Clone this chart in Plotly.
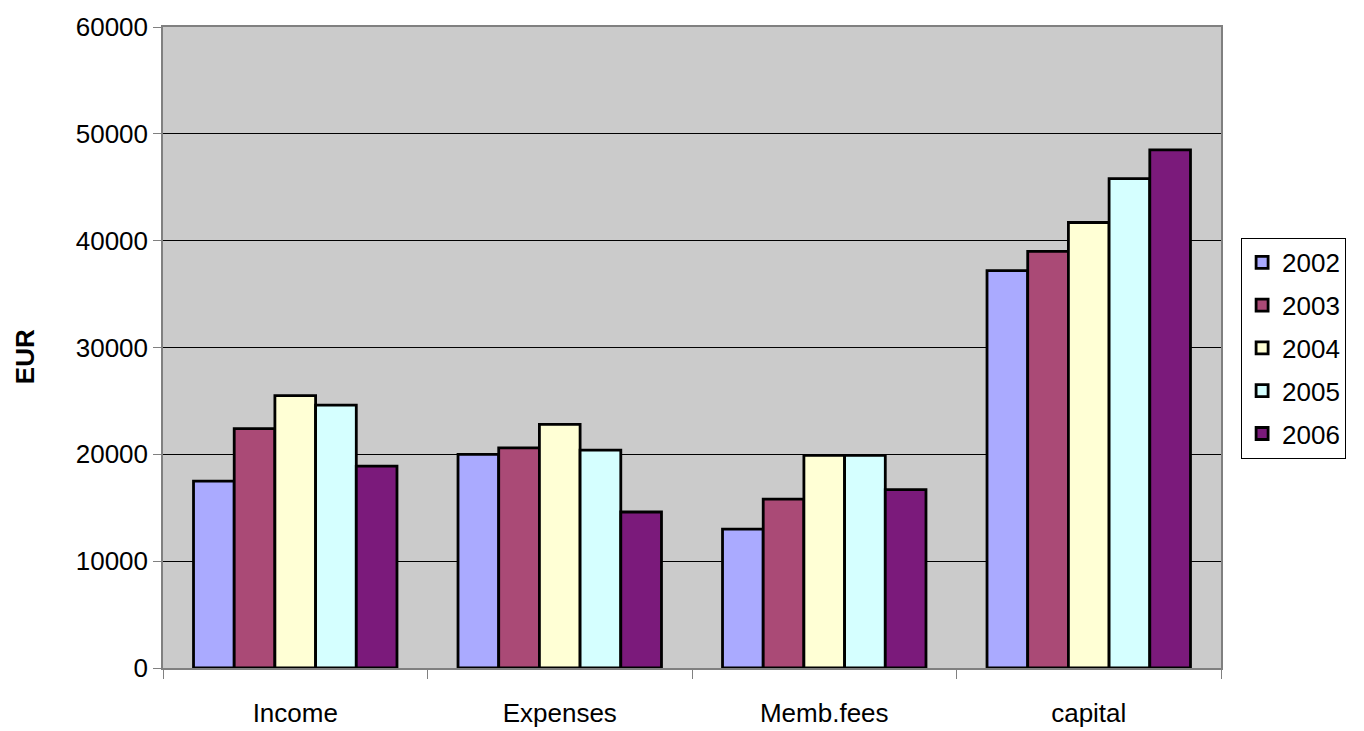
import plotly.graph_objects as go

categories = ["Income", "Expenses", "Memb.fees", "capital"]
years = ["2002", "2003", "2004", "2005", "2006"]
values = {
    "2002": [17500, 20000, 13000, 37200],
    "2003": [22400, 20600, 15800, 39000],
    "2004": [25500, 22800, 19900, 41700],
    "2005": [24600, 20400, 19900, 45800],
    "2006": [18900, 14600, 16700, 48500],
}
colors = ["#AAAAFF", "#AA4A76", "#FFFFD5", "#D5FFFF", "#7B1A7B"]

FONT = "Arial, Liberation Sans, sans-serif"
FS = 26

fig = go.Figure()
for y, c in zip(years, colors):
    fig.add_trace(go.Bar(
        x=categories, y=values[y], name=y, legendgroup=y,
        marker=dict(color=c, line=dict(color="black", width=2.8)),
    ))

fig.update_layout(
    width=1364, height=731,
    margin=dict(l=163, r=143, t=27, b=63, autoexpand=False),
    paper_bgcolor="white",
    plot_bgcolor="#CBCBCB",
    barmode="group",
    bargap=0.2308,
    bargroupgap=0,
    font=dict(family=FONT, size=FS, color="black"),
    legend=dict(
        x=1.019, y=0.671, xanchor="left", yanchor="top",
        bgcolor="white", bordercolor="black", borderwidth=1,
        font=dict(size=FS, family=FONT), tracegroupgap=6,
        itemwidth=30,
    ),
    showlegend=True,
    annotations=[dict(
        text="<b>EUR</b>", textangle=-90, xref="paper", yref="paper",
        x=-0.1304, y=0.485, xanchor="center", yanchor="middle",
        showarrow=False, font=dict(size=FS, family=FONT, color="black"),
    )],
)
fig.update_xaxes(
    showline=True, linecolor="#808080", linewidth=1.5, mirror=True,
    ticks="outside", tickson="boundaries", ticklen=9, tickcolor="#808080",
    tickfont=dict(size=FS, family=FONT), showgrid=False,
    ticklabelstandoff=21,
)
fig.update_yaxes(
    range=[0, 60000], dtick=10000, tickformat="d",
    showgrid=True, gridcolor="black", gridwidth=1,
    showline=True, linecolor="#808080", linewidth=1.5, mirror=True,
    ticks="outside", ticklen=8, tickcolor="#808080",
    tickfont=dict(size=FS, family=FONT),
    zeroline=False,
)

fig.write_html("out.html")
